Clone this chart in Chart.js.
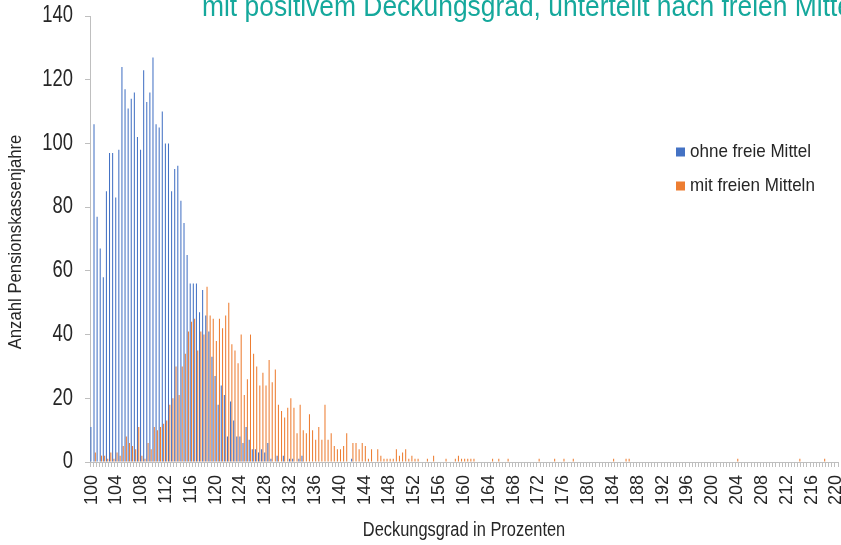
<!DOCTYPE html>
<html lang="de">
<head>
<meta charset="utf-8">
<title>Deckungsgrad</title>
<script src="https://cdn.jsdelivr.net/npm/chart.js@4/dist/chart.umd.min.js"></script>
<style>
    html, body { margin: 0; padding: 0; background: #ffffff; }
    #chart { display: block; }
</style>
</head>
<body>
<canvas id="chart" width="841" height="545"></canvas>
<script>
/* ------------------------------------------------------------------ */
/*  Data — Deckungsgrad in 0.5 % steps, 100 .. 220                     */
/* ------------------------------------------------------------------ */

const start_pct = 100;
const step_pct = 0.5;
const category_count = 241;

const categories = [];
for (let i = 0; i < category_count; i++) {
    categories.push(String(start_pct + i * step_pct));
}

// a tick label is printed on every 8th category (every 4 %)
const tick_labels = ['100', '104', '108', '112', '116', '120', '124', '128', '132', '136',
    '140', '144', '148', '152', '156', '160', '164', '168', '172', '176', '180', '184',
    '188', '192', '196', '200', '204', '208', '212', '216', '220'];

const ohne_freie_mittel = [
    11, 106, 77, 67, 58, 85, 97, 97, 83, 98,
    124, 117, 111, 114, 116, 102, 98, 123, 113, 116,
    127, 106, 105, 110, 100, 100, 85, 92, 93, 82,
    75, 65, 56, 56, 56, 47, 54, 46, 41, 33,
    27, 18, 24, 21, 8, 19, 13, 8, 8, 6,
    11, 7, 4, 4, 3, 4, 3, 6, 1, 0,
    2, 0, 2, 0, 1, 1, 0, 1, 2, 0,
    0, 0, 0, 0, 0, 0, 0, 0, 0, 0,
    0, 0, 0, 0, 1, 0, 0, 0, 0, 0,
    0, 0, 0, 0, 0, 0, 0, 0, 0, 0,
    0, 0, 0, 0, 0, 0, 0, 0, 0, 0,
    0, 0, 0, 0, 0, 0, 0, 0, 0, 0,
    0, 0, 0, 0, 0, 0, 0, 0, 0, 0,
    0, 0, 0, 0, 0, 0, 0, 0, 0, 0,
    0, 0, 0, 0, 0, 0, 0, 0, 0, 0,
    0, 0, 0, 0, 0, 0, 0, 0, 0, 0,
    0, 0, 0, 0, 0, 0, 0, 0, 0, 0,
    0, 0, 0, 0, 0, 0, 0, 0, 0, 0,
    0, 0, 0, 0, 0, 0, 0, 0, 0, 0,
    0, 0, 0, 0, 0, 0, 0, 0, 0, 0,
    0, 0, 0, 0, 0, 0, 0, 0, 0, 0,
    0, 0, 0, 0, 0, 0, 0, 0, 0, 0,
    0, 0, 0, 0, 0, 0, 0, 0, 0, 0,
    0, 0, 0, 0, 0, 0, 0, 0, 0, 0,
    0
];

const mit_freien_mitteln = [
    0, 3, 0, 2, 2, 1, 3, 1, 3, 2,
    5, 8, 6, 5, 4, 11, 2, 1, 6, 4,
    11, 10, 11, 12, 13, 18, 20, 30, 21, 30,
    34, 41, 44, 45, 35, 41, 40, 55, 46, 45,
    38, 45, 42, 46, 50, 37, 35, 31, 40, 21,
    26, 40, 34, 30, 24, 28, 24, 32, 25, 29,
    18, 16, 14, 17, 20, 17, 9, 18, 10, 9,
    15, 10, 7, 11, 7, 18, 7, 9, 5, 4,
    4, 5, 9, 0, 6, 6, 4, 6, 5, 1,
    4, 0, 4, 2, 1, 1, 1, 1, 4, 2,
    3, 4, 1, 2, 1, 1, 0, 0, 1, 0,
    2, 0, 0, 0, 1, 0, 0, 1, 2, 1,
    1, 1, 1, 1, 0, 0, 0, 0, 0, 1,
    0, 1, 0, 0, 1, 0, 0, 0, 0, 0,
    0, 0, 0, 0, 1, 0, 0, 0, 0, 1,
    0, 0, 1, 0, 0, 1, 0, 0, 0, 0,
    0, 0, 0, 0, 0, 0, 0, 0, 1, 0,
    0, 0, 1, 1, 0, 0, 0, 0, 0, 0,
    0, 0, 0, 0, 0, 0, 0, 0, 0, 0,
    0, 0, 0, 0, 0, 0, 0, 0, 0, 0,
    0, 0, 0, 0, 0, 0, 0, 0, 1, 0,
    0, 0, 0, 0, 0, 0, 0, 0, 0, 0,
    0, 0, 0, 0, 0, 0, 0, 0, 1, 0,
    0, 0, 0, 0, 0, 0, 1, 0, 0, 0,
    0
];

const y_ticks = [0, 20, 40, 60, 80, 100, 120, 140];

const heading = 'mit positivem Deckungsgrad, unterteilt nach freien Mitteln';
const x_title = 'Deckungsgrad in Prozenten';
const y_title = 'Anzahl Pensionskassenjahre';

/* ------------------------------------------------------------------ */
/*  Styling                                                            */
/* ------------------------------------------------------------------ */

const font_family = '"Liberation Sans", Arial, sans-serif';
const text_color = '#262626';
const axis_color = '#bfbfbf';
const teal = '#15a89c';

/**
 * Draw text squeezed horizontally (sx < 1) to imitate the narrow
 * face of the original; rotation is applied before the squeeze.
 */
function drawNarrow(ctx, text, x, y, size, sx, opts = {}) {
    ctx.save();
    ctx.translate(x, y);
    if (opts.rotate) ctx.rotate(opts.rotate);
    ctx.scale(sx, 1);
    ctx.font = `${size}px ${font_family}`;
    ctx.fillStyle = opts.color || text_color;
    ctx.textAlign = opts.align || 'left';
    ctx.textBaseline = opts.baseline || 'middle';
    ctx.fillText(text, 0, 0);
    ctx.restore();
}

/** Heading cut off by the top edge, axis titles, y labels and legend. */
const textPlugin = {
    id: 'narrowText',
    afterDraw(chart) {
        const ctx = chart.ctx;
        const y = chart.scales.y;
        const area = chart.chartArea;

        drawNarrow(ctx, heading, 202, 15.5, 30, 0.88, { color: teal, baseline: 'alphabetic' });

        y_ticks.forEach(v => {
            drawNarrow(ctx, String(v), 73, y.getPixelForValue(v), 23, 0.8, { align: 'right' });
        });

        drawNarrow(ctx, y_title, 16, (area.top + area.bottom) / 2 + 3, 19, 0.88,
            { align: 'center', rotate: -Math.PI / 2 });
        drawNarrow(ctx, x_title, (area.left + area.right) / 2, 530, 20, 0.82,
            { align: 'center' });

        chart.data.datasets.forEach((ds, i) => {
            const ly = 152 + i * 34;
            ctx.fillStyle = ds.backgroundColor;
            ctx.fillRect(676, ly - 4.5, 9, 9);
            drawNarrow(ctx, ds.label, 690, ly, 18.5, 0.92);
        });
    }
};

/* ------------------------------------------------------------------ */
/*  Chart                                                              */
/* ------------------------------------------------------------------ */

new Chart(document.getElementById('chart'), {
    type: 'bar',
    data: {
        labels: categories,
        datasets: [
            {
                label: 'ohne freie Mittel',
                data: ohne_freie_mittel,
                backgroundColor: '#4472c4',
                categoryPercentage: 0.84,
                barPercentage: 0.8
            },
            {
                label: 'mit freien Mitteln',
                data: mit_freien_mitteln,
                backgroundColor: '#ed7d31',
                categoryPercentage: 0.84,
                barPercentage: 0.8
            }
        ]
    },
    options: {
        responsive: false,
        animation: false,
        devicePixelRatio: 1,
        layout: { padding: { top: 16, right: 3, left: 0, bottom: 0 } },
        plugins: {
            legend: { display: false },
            tooltip: { enabled: false }
        },
        scales: {
            x: {
                offset: true,
                grid: {
                    drawOnChartArea: false,
                    drawTicks: true,
                    tickLength: 5,
                    color: axis_color,
                    offset: true
                },
                border: { color: axis_color },
                ticks: {
                    autoSkip: false,
                    minRotation: 90,
                    maxRotation: 90,
                    padding: 8,
                    color: text_color,
                    font: { family: font_family, size: 18 },
                    callback: function (value, index) {
                        const label = categories[index];
                        return tick_labels.includes(label) ? label : '';
                    }
                },
                afterFit(scale) {
                    scale.height = 83;
                    scale.paddingLeft = 0;
                    scale.paddingRight = 0;
                }
            },
            y: {
                min: 0,
                max: 140,
                afterBuildTicks(scale) {
                    scale.ticks = y_ticks.map(v => ({ value: v }));
                },
                grid: {
                    drawOnChartArea: false,
                    drawTicks: true,
                    tickLength: 5,
                    color: axis_color
                },
                border: { color: axis_color },
                ticks: { display: false },
                afterFit(scale) {
                    scale.width = 90;
                    scale.paddingTop = 0;
                    scale.paddingBottom = 0;
                }
            }
        }
    },
    plugins: [textPlugin]
});
</script>
</body>
</html>
